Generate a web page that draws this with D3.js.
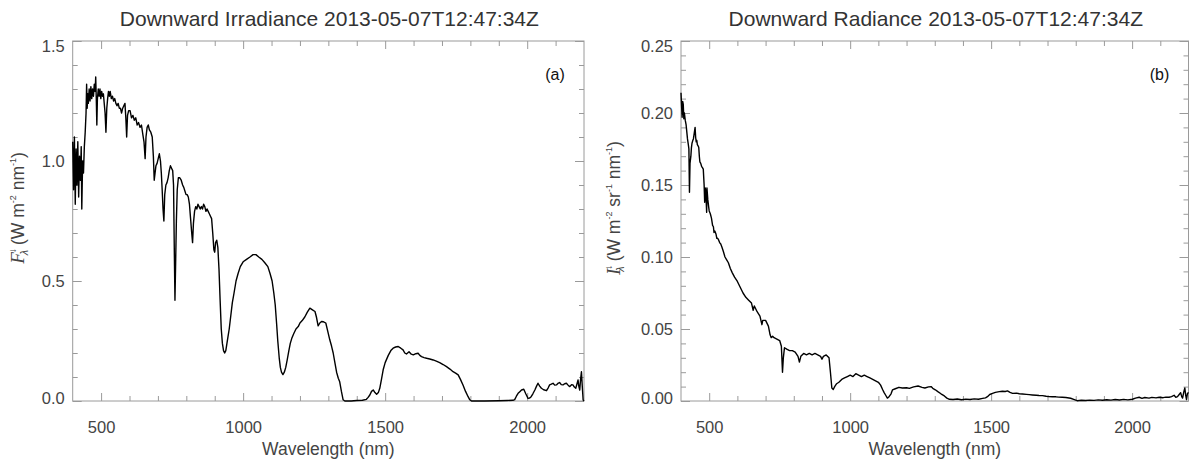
<!DOCTYPE html>
<html>
<head>
<meta charset="utf-8">
<script src="https://cdn.jsdelivr.net/npm/d3@7"></script>
<style>
  html, body { margin: 0; padding: 0; background: #fff; }
  svg { display: block; font-family: "Liberation Sans", Arial, Helvetica, sans-serif; }
</style>
</head>
<body>
<svg id="chart" width="1189" height="463"></svg>
<script>
// ---------------- DATA ----------------
const titles = ["Downward Irradiance 2013-05-07T12:47:34Z", "Downward Radiance 2013-05-07T12:47:34Z"];
const panelTags = ["(a)", "(b)"];
const xAxisTitle = "Wavelength (nm)";
const xDomain = [400, 2200];
const xMajorTicks = [500, 1000, 1500, 2000];
const xMinorTicks = [500, 600, 700, 800, 900, 1000, 1100, 1200, 1300, 1400, 1500, 1600, 1700, 1800, 1900, 2000, 2100];

const irrYDomain = [0, 1.5];
const irrYMajor = [0.0, 0.5, 1.0, 1.5];
const irrYMinor = [0.1, 0.2, 0.3, 0.4, 0.6, 0.7, 0.8, 0.9, 1.1, 1.2, 1.3, 1.4];

const radYDomain = [0, 0.25];
const radYMajor = [0.00, 0.05, 0.10, 0.15, 0.20, 0.25];
const radYMinor = [0.01, 0.02, 0.03, 0.04, 0.06, 0.07, 0.08, 0.09, 0.11, 0.12, 0.13, 0.14, 0.16, 0.17, 0.18, 0.19, 0.21, 0.22, 0.23, 0.24];

// Downward irradiance (W m-2 nm-1)
const irrWavelength = [400,403,406,409,412,415,418,421,424,427,430,432,435,438,441,444,447,449,451,453,455,458,461,464,467,470,473,476,479,481,483,485,487,490,493,496,499,502,505,508,511,514,517,520,523,526,529,532,536,540,544,548,552,556,560,564,568,572,576,580,584,587,590,593,597,602,607,612,617,622,627,632,637,642,647,651,655,658,662,666,670,675,680,684,687,690,693,697,701,705,709,712,715,718,721,724,728,732,736,740,744,748,752,755,758,760,762,765,768,772,777,782,787,791,795,799,803,807,811,815,819,822,825,829,833,837,841,845,849,853,857,861,865,869,873,877,881,885,889,893,897,900,903,907,911,915,919,923,927,931,935,939,943,947,951,956,962,968,975,982,990,1000,1012,1024,1035,1045,1055,1066,1077,1087,1095,1102,1108,1113,1118,1122,1127,1131,1135,1140,1145,1150,1155,1161,1166,1171,1178,1186,1194,1200,1208,1217,1226,1235,1244,1253,1258,1264,1270,1276,1283,1291,1298,1305,1311,1317,1323,1329,1335,1340,1346,1352,1358,1380,1400,1420,1434,1440,1446,1452,1458,1464,1470,1476,1481,1487,1493,1500,1511,1520,1528,1537,1546,1555,1563,1569,1575,1584,1592,1599,1608,1616,1622,1628,1637,1646,1657,1669,1680,1692,1704,1716,1728,1739,1748,1757,1765,1774,1783,1792,1798,1804,1850,1900,1930,1950,1956,1962,1968,1974,1980,1988,1995,2003,2008,2014,2020,2027,2033,2038,2044,2050,2058,2068,2074,2079,2085,2091,2097,2103,2108,2114,2120,2126,2132,2138,2144,2150,2156,2161,2166,2171,2175,2179,2182,2185,2188,2191,2194,2197,2200];
const irrValue = [1.08,0.88,1.10,0.82,1.05,0.90,1.08,0.85,1.02,0.92,1.06,0.80,1.00,0.95,1.06,1.12,1.20,1.32,1.22,1.28,1.24,1.30,1.25,1.31,1.26,1.30,1.27,1.32,1.29,1.35,1.26,1.15,1.26,1.30,1.27,1.30,1.26,1.29,1.27,1.28,1.24,1.20,1.12,1.22,1.26,1.29,1.27,1.29,1.26,1.27,1.25,1.26,1.24,1.23,1.24,1.22,1.22,1.20,1.22,1.23,1.24,1.18,1.10,1.19,1.21,1.21,1.18,1.19,1.17,1.18,1.15,1.16,1.14,1.15,1.11,1.08,1.01,1.10,1.14,1.15,1.13,1.12,1.10,1.02,0.92,0.95,0.98,0.99,1.01,1.03,1.00,0.95,0.88,0.80,0.75,0.86,0.90,0.91,0.93,0.96,0.98,0.97,0.96,0.90,0.60,0.42,0.55,0.75,0.88,0.93,0.93,0.92,0.90,0.89,0.875,0.86,0.86,0.85,0.82,0.76,0.70,0.66,0.74,0.79,0.81,0.80,0.82,0.81,0.80,0.81,0.80,0.82,0.81,0.79,0.80,0.79,0.78,0.77,0.76,0.70,0.63,0.62,0.66,0.67,0.64,0.55,0.42,0.30,0.24,0.21,0.20,0.21,0.24,0.27,0.30,0.35,0.41,0.45,0.50,0.53,0.56,0.58,0.59,0.60,0.61,0.61,0.60,0.59,0.575,0.56,0.53,0.50,0.45,0.40,0.32,0.25,0.18,0.14,0.12,0.11,0.12,0.14,0.17,0.21,0.24,0.26,0.28,0.30,0.31,0.325,0.335,0.35,0.37,0.387,0.38,0.373,0.35,0.313,0.325,0.331,0.33,0.325,0.29,0.255,0.23,0.20,0.16,0.12,0.095,0.08,0.04,0.005,0.0,0.0,0.002,0.003,0.007,0.015,0.025,0.04,0.046,0.035,0.028,0.035,0.053,0.09,0.13,0.16,0.19,0.21,0.22,0.225,0.227,0.22,0.213,0.20,0.196,0.205,0.195,0.192,0.197,0.199,0.19,0.185,0.181,0.178,0.175,0.171,0.166,0.16,0.152,0.143,0.133,0.122,0.116,0.109,0.09,0.067,0.04,0.018,0.005,0.0,0.0,0.001,0.002,0.003,0.006,0.02,0.032,0.039,0.046,0.049,0.03,0.011,0.012,0.018,0.03,0.046,0.062,0.074,0.062,0.053,0.047,0.043,0.055,0.067,0.07,0.074,0.066,0.067,0.073,0.077,0.068,0.067,0.072,0.074,0.066,0.06,0.068,0.067,0.058,0.053,0.07,0.088,0.06,0.046,0.09,0.122,0.06,0.004,0.0];

// Downward radiance (W m-2 sr-1 nm-1)
const radWavelength = [400,402,404,406,408,410,412,415,418,421,423,426,428,430,432,435,437,439,442,444,447,450,452,454,456,458,461,463,465,467,470,473,476,479,482,484,486,488,491,492,495,498,500,504,508,512,515,517,520,524,527,530,533,537,541,545,550,556,562,568,575,582,590,600,610,620,630,640,650,656,660,670,680,687,690,700,710,716,720,725,730,740,750,756,760,763,767,775,785,795,805,815,820,825,835,845,855,865,875,885,895,900,905,915,925,930,935,940,945,952,960,970,980,990,1000,1010,1020,1030,1040,1050,1060,1070,1080,1090,1100,1108,1115,1120,1126,1132,1138,1145,1150,1160,1173,1185,1200,1210,1225,1241,1255,1265,1278,1287,1293,1302,1311,1322,1334,1343,1352,1365,1380,1395,1410,1425,1440,1455,1470,1480,1487,1495,1505,1515,1529,1540,1550,1558,1567,1576,1590,1600,1611,1625,1635,1646,1660,1670,1682,1695,1705,1717,1730,1740,1752,1765,1782,1795,1805,1820,1835,1850,1865,1880,1895,1910,1925,1940,1955,1970,1985,2001,2012,2025,2035,2045,2060,2070,2085,2096,2110,2120,2131,2140,2149,2155,2161,2167,2172,2176,2179,2183,2187,2190,2193,2196,2200];
const radValue = [0.214,0.205,0.197,0.208,0.206,0.196,0.200,0.195,0.192,0.186,0.182,0.178,0.175,0.145,0.165,0.170,0.176,0.179,0.181,0.182,0.186,0.190,0.183,0.180,0.181,0.178,0.177,0.176,0.170,0.166,0.165,0.163,0.162,0.161,0.150,0.138,0.148,0.145,0.131,0.148,0.140,0.135,0.132,0.130,0.127,0.122,0.121,0.117,0.118,0.116,0.113,0.113,0.112,0.110,0.109,0.107,0.104,0.100,0.098,0.096,0.092,0.089,0.086,0.083,0.079,0.075,0.072,0.070,0.068,0.063,0.066,0.062,0.059,0.053,0.056,0.056,0.052,0.046,0.044,0.045,0.044,0.043,0.042,0.038,0.020,0.030,0.037,0.036,0.035,0.035,0.034,0.031,0.027,0.031,0.033,0.032,0.033,0.032,0.033,0.032,0.031,0.029,0.031,0.032,0.030,0.020,0.009,0.008,0.010,0.012,0.013,0.015,0.016,0.017,0.018,0.017,0.019,0.018,0.017,0.018,0.017,0.016,0.015,0.014,0.013,0.011,0.008,0.006,0.004,0.002,0.003,0.005,0.0077,0.0085,0.0095,0.0090,0.0092,0.0088,0.0098,0.0104,0.0095,0.0090,0.0098,0.0100,0.0088,0.0078,0.0065,0.0050,0.0035,0.0020,0.0012,0.0010,0.0014,0.0009,0.0013,0.0010,0.0015,0.0012,0.0018,0.0022,0.0030,0.0045,0.0053,0.0060,0.0065,0.0068,0.0066,0.0070,0.0060,0.0053,0.0055,0.0050,0.0049,0.0046,0.0044,0.0042,0.0040,0.0038,0.0037,0.0033,0.0031,0.0030,0.0029,0.0027,0.0026,0.0024,0.0019,0.0010,0.0002,0.0005,0.0003,0.0006,0.0004,0.0008,0.0005,0.0009,0.0006,0.0010,0.0007,0.0011,0.0008,0.0012,0.0020,0.0026,0.0018,0.0024,0.0020,0.0025,0.0022,0.0026,0.0023,0.0027,0.0026,0.0030,0.0040,0.0025,0.0030,0.0045,0.0058,0.0030,0.0020,0.0060,0.0090,0.0040,0.0010,0.0050,0.0060];

// ---------------- DRAW ----------------
const svg = d3.select("#chart");
const axisColor = "#9a9a9a";
const labelColor = "#444";
const FONT = "'Liberation Sans', Arial, Helvetica, sans-serif";

const panels = [
  { title: titles[0], tag: panelTags[0], left: 72.7, right: 584, top: 41, bottom: 401,
    yDomain: irrYDomain, yMajor: irrYMajor, yMinor: irrYMinor, yFmt: d3.format(".1f"),
    wl: irrWavelength, val: irrValue, ylabel: "F", ylabelX: 24 },
  { title: titles[1], tag: panelTags[1], left: 681, right: 1188.5, top: 41, bottom: 401,
    yDomain: radYDomain, yMajor: radYMajor, yMinor: radYMinor, yFmt: d3.format(".2f"),
    wl: radWavelength, val: radValue, ylabel: "I", ylabelX: 620 }
];

panels.forEach((p, i) => {
  const x = d3.scaleLinear().domain(xDomain).range([p.left, p.right]);
  const y = d3.scaleLinear().domain(p.yDomain).range([p.bottom, p.top]);
  const g = svg.append("g");
  const minorX = xMinorTicks.filter(v => !xMajorTicks.includes(v));

  const axes = [
    g.append("g").attr("transform", `translate(0,${p.bottom})`)
      .call(d3.axisBottom(x).tickValues(xMajorTicks).tickSize(-8).tickPadding(20.5).tickFormat(d3.format("d"))),
    g.append("g").attr("transform", `translate(0,${p.bottom})`)
      .call(d3.axisBottom(x).tickValues(minorX).tickSize(-5).tickFormat("")),
    g.append("g").attr("transform", `translate(0,${p.top})`)
      .call(d3.axisTop(x).tickValues(xMajorTicks).tickSize(-8).tickFormat("")),
    g.append("g").attr("transform", `translate(0,${p.top})`)
      .call(d3.axisTop(x).tickValues(minorX).tickSize(-5).tickFormat("")),
    g.append("g").attr("class", "yleft").attr("transform", `translate(${p.left},0)`)
      .call(d3.axisLeft(y).tickValues(p.yMajor).tickSize(-9).tickPadding(8).tickFormat(p.yFmt)),
    g.append("g").attr("transform", `translate(${p.left},0)`)
      .call(d3.axisLeft(y).tickValues(p.yMinor).tickSize(-5).tickFormat("")),
    g.append("g").attr("transform", `translate(${p.right},0)`)
      .call(d3.axisRight(y).tickValues(p.yMajor).tickSize(-9).tickFormat("")),
    g.append("g").attr("transform", `translate(${p.right},0)`)
      .call(d3.axisRight(y).tickValues(p.yMinor).tickSize(-5).tickFormat(""))
  ];
  axes.forEach(a => {
    a.select(".domain").remove();
    a.selectAll(".tick line").attr("stroke", axisColor).attr("stroke-width", 1);
    a.selectAll(".tick text").attr("fill", labelColor).attr("font-size", 16.5).attr("font-family", FONT);
  });
  // keep end labels nudged inside the frame, as in the reference
  const nY = p.yMajor.length;
  g.select(".yleft").selectAll(".tick text")
    .attr("dy", (d, k) => k === nY - 1 ? "0.62em" : (k === 0 ? "0.15em" : "0.32em"));

  // frame
  g.append("rect").attr("x", p.left).attr("y", p.top)
    .attr("width", p.right - p.left).attr("height", p.bottom - p.top)
    .attr("fill", "none").attr("stroke", axisColor).attr("stroke-width", 1);

  // data line
  const pts = p.wl.map((w, k) => [w, p.val[k]]);
  g.append("path").datum(pts)
    .attr("fill", "none").attr("stroke", "#000").attr("stroke-width", 1.4)
    .attr("stroke-linejoin", "round")
    .attr("d", d3.line().x(d => x(d[0])).y(d => y(d[1])));

  // title
  g.append("text").attr("x", (p.left + p.right) / 2 + 1).attr("y", 26)
    .attr("text-anchor", "middle").attr("font-size", 21).attr("fill", "#333")
    .text(p.title);

  // x axis title
  g.append("text").attr("x", (p.left + p.right) / 2).attr("y", 455)
    .attr("text-anchor", "middle").attr("font-size", 17.5).attr("fill", labelColor)
    .text(xAxisTitle);

  // panel tag
  g.append("text").attr("x", p.right - 29).attr("y", 80)
    .attr("text-anchor", "middle").attr("font-size", 16).attr("fill", "#111")
    .text(p.tag);

  // y axis title
  const cy = 208;
  const yt = g.append("text")
    .attr("transform", `translate(${p.ylabelX},${cy}) rotate(-90)`)
    .attr("text-anchor", "middle").attr("font-size", 17.5).attr("fill", labelColor);
  yt.append("tspan").attr("font-family", "'Liberation Serif', 'Times New Roman', serif")
    .attr("font-style", "italic").attr("font-size", 19).text(p.ylabel);
  yt.append("tspan").attr("font-size", 10).attr("dy", -8).attr("dx", -1).text("↓");
  yt.append("tspan").attr("font-size", 11).attr("dy", 12).attr("dx", -7).attr("font-style", "italic").text("λ");
  yt.append("tspan").attr("dy", -4).text(" (W m");
  yt.append("tspan").attr("font-size", 9).attr("dy", -8).text("-2");
  if (i === 0) {
    yt.append("tspan").attr("dy", 8).text(" nm");
    yt.append("tspan").attr("font-size", 9).attr("dy", -8).text("-1");
    yt.append("tspan").attr("dy", 8).text(")");
  } else {
    yt.append("tspan").attr("dy", 8).text(" sr");
    yt.append("tspan").attr("font-size", 9).attr("dy", -8).text("-1");
    yt.append("tspan").attr("dy", 8).text(" nm");
    yt.append("tspan").attr("font-size", 9).attr("dy", -8).text("-1");
    yt.append("tspan").attr("dy", 8).text(")");
  }
});
</script>
</body>
</html>
